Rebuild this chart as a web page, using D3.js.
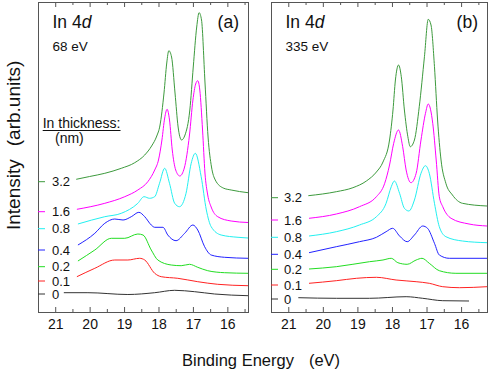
<!DOCTYPE html>
<html>
<head>
<meta charset="utf-8">
<script src="https://cdn.jsdelivr.net/npm/d3@7"></script>
<style>
  body { margin: 0; background: #fff; }
  svg { display: block; font-family: "Liberation Sans", Arial, Helvetica, sans-serif; }
</style>
</head>
<body>
<svg id="chart"></svg>
<script>
// In thickness (nm) of each trace, top to bottom
const thickness = ["3.2", "1.6", "0.8", "0.4", "0.2", "0.1", "0"];
const energyTicks = [21, 20, 19, 18, 17, 16];
const energyMinor = [21.5, 20.5, 19.5, 18.5, 17.5, 16.5, 15.5];

// offsets of the traces on the left axis (arb. units)
const levels68 = [13.03, 10.03, 8.33, 6.2, 4.53, 3.1, 1.8];
const levels335 = [11.43, 9.2, 7.47, 5.77, 4.27, 2.7, 1.3];

// hv = 68 eV : [binding energy, intensity]
const s68_32 = [[20.39,13.27],[20.0,13.55],[19.56,13.87],[19.08,14.37],[18.69,14.93],[18.40,15.7],[18.20,16.6],[18.05,17.6],[17.96,18.6],[17.84,21.9],[17.76,24.9],[17.70,26.13],[17.62,25.5],[17.52,21.9],[17.43,18.5],[17.33,17.2],[17.23,17.7],[17.09,20.2],[16.99,24.5],[16.89,28.5],[16.82,29.93],[16.75,29.2],[16.65,23.0],[16.56,17.5],[16.46,14.5],[16.35,13.2],[16.12,12.4],[15.89,12.2],[15.4,11.93]];
const s68_16 = [[20.37,10.27],[19.56,10.87],[18.98,11.53],[18.60,12.2],[18.31,13.03],[18.11,14.2],[18.0,15.2],[17.90,17.2],[17.82,19.4],[17.75,20.27],[17.68,19.2],[17.60,16.2],[17.50,14.2],[17.38,13.6],[17.25,14.4],[17.10,17.7],[17.00,21.2],[16.92,22.8],[16.86,23.13],[16.80,22.2],[16.72,18.2],[16.65,13.9],[16.57,11.7],[16.47,10.5],[16.28,9.53],[15.89,9.1],[15.4,8.95]];
const s68_08 = [[20.34,8.8],[19.56,9.53],[19.08,9.87],[18.60,10.87],[18.42,11.53],[18.26,11.37],[18.11,11.53],[17.97,12.87],[17.82,14.37],[17.68,12.87],[17.53,10.87],[17.39,10.53],[17.20,11.87],[17.05,14.87],[16.93,15.87],[16.76,13.53],[16.61,10.2],[16.47,8.53],[16.18,7.7],[15.69,7.47],[15.4,7.4]];
const s68_04 = [[20.34,6.7],[19.85,7.87],[19.56,8.87],[19.27,9.3],[19.03,9.2],[18.79,9.53],[18.57,9.97],[18.40,9.53],[18.21,8.7],[18.11,8.47],[17.87,8.47],[17.73,7.7],[17.49,7.13],[17.24,7.87],[17.0,8.7],[16.86,8.2],[16.66,6.53],[16.47,5.7],[16.08,5.47],[15.4,5.37]];
const s68_02 = [[20.34,5.1],[19.85,6.2],[19.37,7.37],[18.98,7.37],[18.60,7.8],[18.45,7.7],[18.21,6.2],[18.02,5.2],[17.63,4.7],[17.34,4.63],[17.10,4.77],[16.86,4.47],[16.57,4.13],[16.08,3.93],[15.4,3.87]];
const s68_01 = [[20.37,3.53],[19.85,4.37],[19.27,5.2],[18.89,5.2],[18.55,5.37],[18.40,5.2],[18.11,3.87],[17.92,3.53],[17.44,3.37],[16.86,3.03],[16.28,2.77],[15.4,2.63]];
const s68_0 = [[20.75,1.93],[20.05,1.93],[18.89,1.75],[18.11,1.93],[17.53,2.17],[16.95,2.03],[16.37,1.8],[15.4,1.63]];

// hv = 335 eV
const s335_32 = [[20.42,11.63],[19.61,12.03],[19.13,12.43],[18.74,13.1],[18.45,14.0],[18.26,15.0],[18.07,17.2],[17.97,20.2],[17.90,23.2],[17.81,24.7],[17.73,23.53],[17.64,20.2],[17.54,17.53],[17.47,16.53],[17.35,17.2],[17.21,20.53],[17.06,25.53],[16.95,29.27],[16.87,28.7],[16.77,24.53],[16.68,19.2],[16.58,15.2],[16.44,12.87],[16.25,11.7],[15.96,10.87],[15.25,10.6]];
const s335_16 = [[20.40,9.37],[19.61,9.8],[18.94,10.53],[18.45,11.53],[18.21,12.87],[18.07,14.7],[17.95,16.87],[17.81,18.2],[17.69,16.53],[17.59,14.2],[17.45,12.93],[17.30,13.87],[17.16,17.2],[17.03,19.87],[16.95,20.8],[16.82,18.87],[16.72,15.2],[16.63,11.53],[16.53,10.53],[16.29,9.37],[15.77,8.8],[15.25,8.6]];
const s335_08 = [[20.40,7.6],[19.61,8.03],[18.94,8.7],[18.45,9.53],[18.17,10.87],[18.02,12.53],[17.93,13.1],[17.78,11.87],[17.64,10.37],[17.51,10.1],[17.35,11.2],[17.16,13.87],[17.03,14.63],[16.92,13.87],[16.77,10.87],[16.63,8.53],[16.44,7.53],[15.96,7.1],[15.25,6.93]];
const s335_04 = [[20.40,5.93],[19.61,6.53],[18.94,7.03],[18.45,7.47],[18.17,8.03],[17.98,8.37],[17.78,7.6],[17.56,7.03],[17.35,7.7],[17.11,8.6],[16.97,8.37],[16.77,6.87],[16.63,5.7],[16.34,5.37],[15.25,5.37]];
const s335_02 = [[20.40,4.3],[19.61,4.53],[18.65,5.03],[18.26,5.2],[18.02,5.37],[17.83,4.93],[17.56,4.77],[17.30,5.2],[17.13,5.37],[16.92,4.87],[16.63,4.13],[16.15,3.87],[15.25,3.87]];
const s335_01 = [[20.40,2.87],[19.61,3.13],[19.03,3.37],[18.45,3.47],[17.88,3.2],[17.30,3.03],[16.92,2.87],[16.53,2.53],[16.05,2.43],[15.25,2.53]];
const s335_0 = [[20.71,1.43],[19.61,1.37],[18.65,1.37],[17.59,1.53],[17.11,1.37],[16.53,1.13],[15.77,1.1]];

const lineColors = ["#3d9a3d", "#ff00ff", "#22f0f0", "#2222ff", "#22dd22", "#ff2222", "#333333"];

const panels = [
  { left: 38, right: 248, domain: [21.5, 15.4], tag: "(a)", energy: "68 eV", levels: levels68, labelX: 14,
    series: [s68_32, s68_16, s68_08, s68_04, s68_02, s68_01, s68_0], legend: true },
  { left: 271, right: 487, domain: [21.5, 15.25], tag: "(b)", energy: "335 eV", levels: levels335, labelX: 13,
    series: [s335_32, s335_16, s335_08, s335_04, s335_02, s335_01, s335_0], legend: false }
];

const width = 491, height = 374;
const plotTop = 2, plotBottom = 312;
const axisColor = "#555";

const svg = d3.select("#chart")
  .attr("width", width)
  .attr("height", height)
  .attr("viewBox", [0, 0, width, height]);

const y = d3.scaleLinear([0, 31], [plotBottom, plotTop]);

panels.forEach(p => {
  const x = d3.scaleLinear(p.domain, [p.left, p.right]);
  const g = svg.append("g");
  const minors = energyMinor.filter(e => x(e) > p.left + 1 && x(e) < p.right - 1);

  // bottom axis, ticks inward
  const bx = g.append("g")
    .attr("transform", `translate(0,${plotBottom})`)
    .call(d3.axisBottom(x).tickValues(energyTicks).tickSize(-5).tickPadding(7).tickFormat(d3.format("d")));
  bx.select(".domain").remove();
  bx.selectAll("line").attr("stroke", axisColor);
  bx.selectAll("text").attr("font-size", 14).attr("fill", "#111").attr("font-family", null);

  const bm = g.append("g")
    .attr("transform", `translate(0,${plotBottom})`)
    .call(d3.axisBottom(x).tickValues(minors).tickSize(-3).tickFormat(""));
  bm.select(".domain").remove();
  bm.selectAll("line").attr("stroke", axisColor);

  // top axis, ticks inward
  const tx = g.append("g")
    .attr("transform", `translate(0,${plotTop})`)
    .call(d3.axisTop(x).tickValues(energyTicks).tickSize(-5).tickFormat(""));
  tx.select(".domain").remove();
  tx.selectAll("line").attr("stroke", axisColor);
  const tm = g.append("g")
    .attr("transform", `translate(0,${plotTop})`)
    .call(d3.axisTop(x).tickValues(minors).tickSize(-3).tickFormat(""));
  tm.select(".domain").remove();
  tm.selectAll("line").attr("stroke", axisColor);

  // frame
  g.append("rect")
    .attr("x", p.left + 0.5)
    .attr("y", plotTop + 0.5)
    .attr("width", p.right - p.left)
    .attr("height", plotBottom - plotTop)
    .attr("fill", "none")
    .attr("stroke", axisColor)
    .attr("stroke-width", 1);

  // spectra
  const line = d3.line()
    .x(d => x(d[0]))
    .y(d => y(d[1]))
    .curve(d3.curveMonotoneX);

  g.selectAll(".trace")
    .data(p.series)
    .join("path")
    .attr("class", "trace")
    .attr("fill", "none")
    .attr("stroke", (d, i) => lineColors[i])
    .attr("stroke-width", 1)
    .attr("d", line);

  // coloured marks on the left axis + thickness labels
  g.selectAll(".mark")
    .data(p.levels)
    .join("line")
    .attr("class", "mark")
    .attr("x1", p.left)
    .attr("x2", p.left + 7)
    .attr("y1", d => y(d))
    .attr("y2", d => y(d))
    .attr("stroke", (d, i) => lineColors[i]);

  g.selectAll(".lvl")
    .data(p.levels)
    .join("text")
    .attr("class", "lvl")
    .attr("x", p.left + p.labelX)
    .attr("y", d => y(d) + 4.5)
    .attr("font-size", 13)
    .attr("fill", "#111")
    .text((d, i) => thickness[i]);

  // titles
  const t = g.append("text")
    .attr("x", p.left + 14.5)
    .attr("y", 28)
    .attr("font-size", 17.5)
    .attr("fill", "#111")
    .text("In 4");
  t.append("tspan").attr("font-style", "italic").text("d");

  g.append("text")
    .attr("x", p.left + 14.5)
    .attr("y", 50.5)
    .attr("font-size", 13.5)
    .attr("fill", "#111")
    .text(p.energy);

  g.append("text")
    .attr("x", p.right - 9)
    .attr("y", 27.5)
    .attr("text-anchor", "end")
    .attr("font-size", 17.5)
    .attr("fill", "#111")
    .text(p.tag);

  if (p.legend) {
    const lt = g.append("text")
      .attr("x", p.left + 4.7)
      .attr("y", 128)
      .attr("font-size", 14)
      .attr("fill", "#111")
      .text("In thickness:");
    const w = lt.node().getComputedTextLength();
    g.append("line")
      .attr("x1", p.left + 4.7)
      .attr("x2", p.left + 4.7 + w)
      .attr("y1", 130.5)
      .attr("y2", 130.5)
      .attr("stroke", "#111");
    g.append("text")
      .attr("x", p.left + 17)
      .attr("y", 142.5)
      .attr("font-size", 14)
      .attr("fill", "#111")
      .text("(nm)");
  }
});

// axis titles
const yl = svg.append("text")
  .attr("transform", "translate(19.5,230) rotate(-90)")
  .attr("font-size", 19)
  .attr("fill", "#111");
yl.append("tspan").text("Intensity");
yl.append("tspan").attr("dx", 13).text("(arb.units)");

const xl = svg.append("text")
  .attr("x", 182)
  .attr("y", 366)
  .attr("font-size", 16.5)
  .attr("fill", "#111");
xl.append("tspan").text("Binding Energy");
xl.append("tspan").attr("dx", 15).text("(eV)");
</script>
</body>
</html>
